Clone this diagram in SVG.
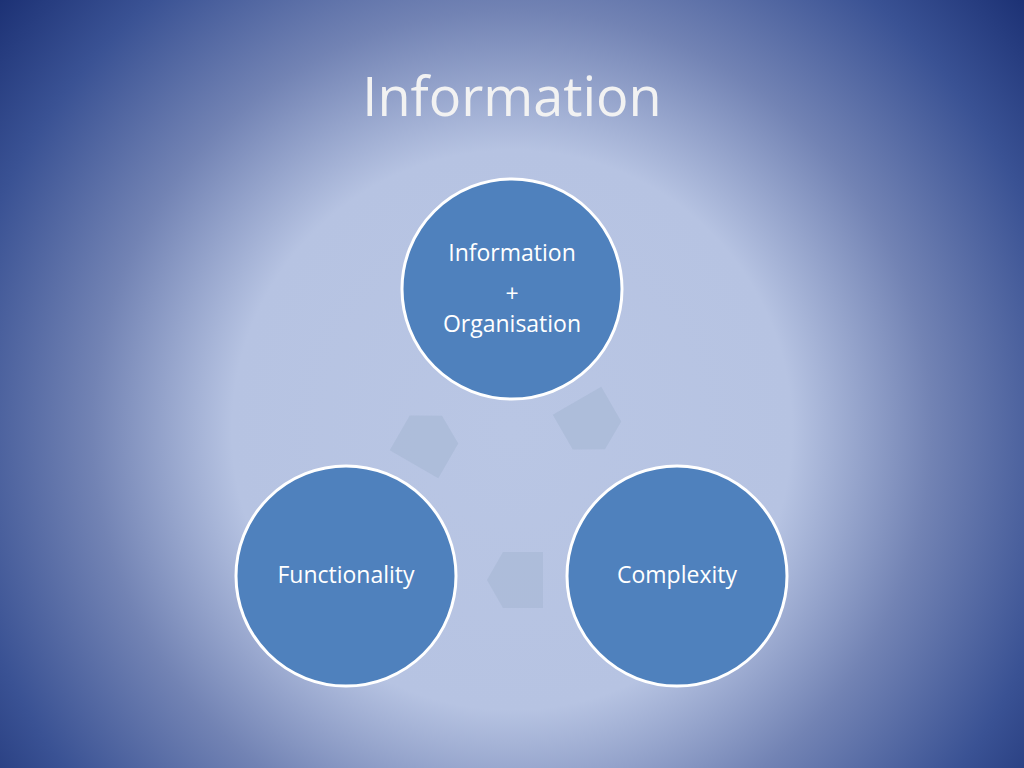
<svg xmlns="http://www.w3.org/2000/svg" width="1024" height="768" viewBox="0 0 1024 768">
<defs>
<radialGradient id="bg" cx="512" cy="430" r="700" gradientUnits="userSpaceOnUse">
<stop offset="0" stop-color="#b9c6e4"/>
<stop offset="0.4" stop-color="#b6c3e2"/>
<stop offset="0.6" stop-color="#7283b4"/>
<stop offset="0.8" stop-color="#3a5294"/>
<stop offset="1" stop-color="#14286c"/>
</radialGradient>
<path id="arr" d="M-28,-28 L12,-28 L28,0 L12,28 L-28,28 Z"/>
<style>
.node{fill:#4f81bd;stroke:#fff;stroke-width:3}
.t{font-family:"Open Sans","Liberation Sans",sans-serif;fill:#fff;text-anchor:middle;font-size:23px}
.a{fill:#a8b9d6;opacity:0.7}
</style>
</defs>
<rect width="1024" height="768" fill="url(#bg)"/>
<text x="512" y="116" class="t" style="font-size:54px;fill:#f2f2f2">Information</text>
<g id="connectors">
<use href="#arr" class="a" transform="translate(591,425) rotate(60)"/>
<use href="#arr" class="a" transform="translate(515,580) rotate(180)"/>
<use href="#arr" class="a" transform="translate(428,440) rotate(-60)"/>
</g>
<g id="n1"><circle class="node" cx="512" cy="289" r="110"/>
<text x="512" y="261" class="t">Information</text>
<text x="512" y="302" class="t">+</text>
<text x="512" y="332" class="t">Organisation</text></g>
<g id="n2"><circle class="node" cx="346" cy="576" r="110"/>
<text x="346" y="583" class="t">Functionality</text></g>
<g id="n3"><circle class="node" cx="677" cy="576" r="110"/>
<text x="677" y="583" class="t">Complexity</text></g>
</svg>
